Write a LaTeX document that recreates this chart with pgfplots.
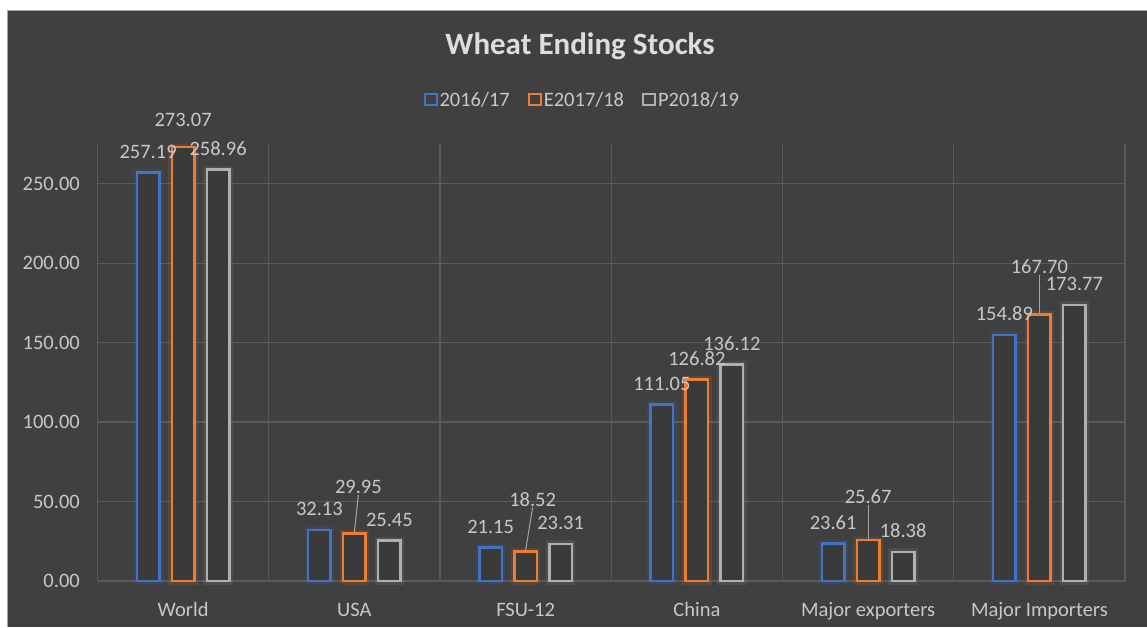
\documentclass[border=0pt]{standalone}
\usepackage{fontspec}
\setmainfont{Carlito}
\usepackage{pgfplots}
\usepackage{pgfplotstable}
\pgfplotsset{compat=1.18}
\definecolor{bg}{HTML}{404040}
\definecolor{barfill}{HTML}{3A3A3A}
\definecolor{gridc}{HTML}{5A5A5A}
\definecolor{cblue}{HTML}{4472C4}
\definecolor{corange}{HTML}{ED7D31}
\definecolor{cgray}{HTML}{B0B0B0}
\definecolor{txt}{HTML}{C8C8C8}
\definecolor{ttl}{HTML}{DDDDDD}
\definecolor{leadc}{HTML}{A6A6A6}

\pgfplotstableread{
x y dx dy lead
0 257.19 0 0 0
1 32.13 0 0 0
2 21.15 0 0 0
3 111.05 0 0 0
4 23.61 0 0 0
5 154.89 0 0 0
}\tblA
\pgfplotstableread{
x y dx dy lead
0 273.07 0 7 0
1 29.95 4 26 1
2 18.52 7 31.5 1
3 126.82 0 0 0
4 25.67 0 23 1
5 167.70 0 27 1
}\tblB
\pgfplotstableread{
x y dx dy lead
0 258.96 0 0 0
1 25.45 0 0 0
2 23.31 0 0 0
3 136.12 0 0 0
4 18.38 0 0 0
5 173.77 0 0 0
}\tblC

\pgfplotsset{
  legbox/.style={legend image code/.code={\draw[##1, line width=2pt, fill=none] (0pt,-5.5pt) rectangle (12pt,5.5pt);}},
  barstyle/.style n args={3}{ybar, bar width=22.5pt, bar shift=#1pt, draw=#2, line width=2.5pt, fill=barfill,
    preaction={draw=#2, fill=none, line width=7pt, draw opacity=0.13},
    point meta=y,
    nodes near coords={\pgfmathprintnumber[fixed,fixed zerofill,precision=2,assume math mode=true]{\pgfplotspointmeta}},
    visualization depends on={\thisrow{dx}\as\myDx},
    visualization depends on={\thisrow{dy}\as\myDy},
    visualization depends on={\thisrow{lead}\as\myLead},
    every node near coord/.append style={anchor=south, inner sep=0pt, text=txt,
      font=\fontsize{20.5}{24}\selectfont,
      xshift={(\myDx+#3)*1pt}, yshift={(12.6+\myDy)*1pt},
      append after command={(\tikzlastnode.south) edge[draw=leadc, line width=1pt, draw opacity=\myLead] ++({-\myDx*1pt},{-(11.3+\myDy)*1pt})}},
  },
}

\begin{document}
\begin{tikzpicture}
\fill[white] (0,0) rectangle (1147pt,627pt);
\fill[bg] (7pt,0) rectangle (1147pt,617pt);
\draw[gray!70, line width=1pt] (7.5pt,0) -- (7.5pt,616.5pt) -- (1147pt,616.5pt);
\node[anchor=base, text=ttl, font=\fontsize{31}{36}\selectfont\bfseries] at (580pt,572pt) {Wheat Ending Stocks};
\begin{axis}[
  at={(97.5pt,46pt)}, anchor=south west,
  scale only axis, width=1027.5pt, height=437pt,
  xmin=-0.5, xmax=5.5, ymin=0, ymax=275,
  clip=false,
  axis line style={draw=none},
  major tick length=0pt, minor tick length=0pt,
  xtick={0,...,5},
  xticklabels={World,USA,FSU-12,China,Major exporters,Major Importers},
  minor xtick={-0.5,0.5,...,5.5},
  ytick={0,50,...,250},
  ymajorgrids, xminorgrids,
  grid style={draw=gridc, line width=1.2pt},
  minor grid style={draw=gridc, line width=1.2pt},
  /pgf/number format/fixed, /pgf/number format/fixed zerofill,
  /pgf/number format/precision=2, /pgf/number format/assume math mode=true,
  tick label style={font=\fontsize{20.5}{24}\selectfont, text=txt},
  yticklabel style={anchor=east, inner sep=0pt, xshift=-17.5pt},
  xticklabel style={anchor=base, inner sep=0pt, yshift=-35pt},
  legend style={at={(0.5,1)}, anchor=center, xshift=-29pt, yshift=44pt,
    draw=none, fill=none, text=txt, font=\fontsize{20.5}{24}\selectfont,
    legend columns=3, /tikz/every even column/.append style={column sep=16pt}},
  legend entries={2016/17,E2017/18,P2018/19},
]
\addlegendimage{legbox, draw=cblue}
\addlegendimage{legbox, draw=corange}
\addlegendimage{legbox, draw=cgray}
\addplot[barstyle={-35}{cblue}{-35}] table[x=x,y=y] {\tblA};
\addplot[barstyle={0}{corange}{0}] table[x=x,y=y] {\tblB};
\addplot[barstyle={35}{cgray}{35}] table[x=x,y=y] {\tblC};
\end{axis}
\pgfresetboundingbox
\path (0,0) rectangle (1147pt,627pt);
\end{tikzpicture}
\end{document}
